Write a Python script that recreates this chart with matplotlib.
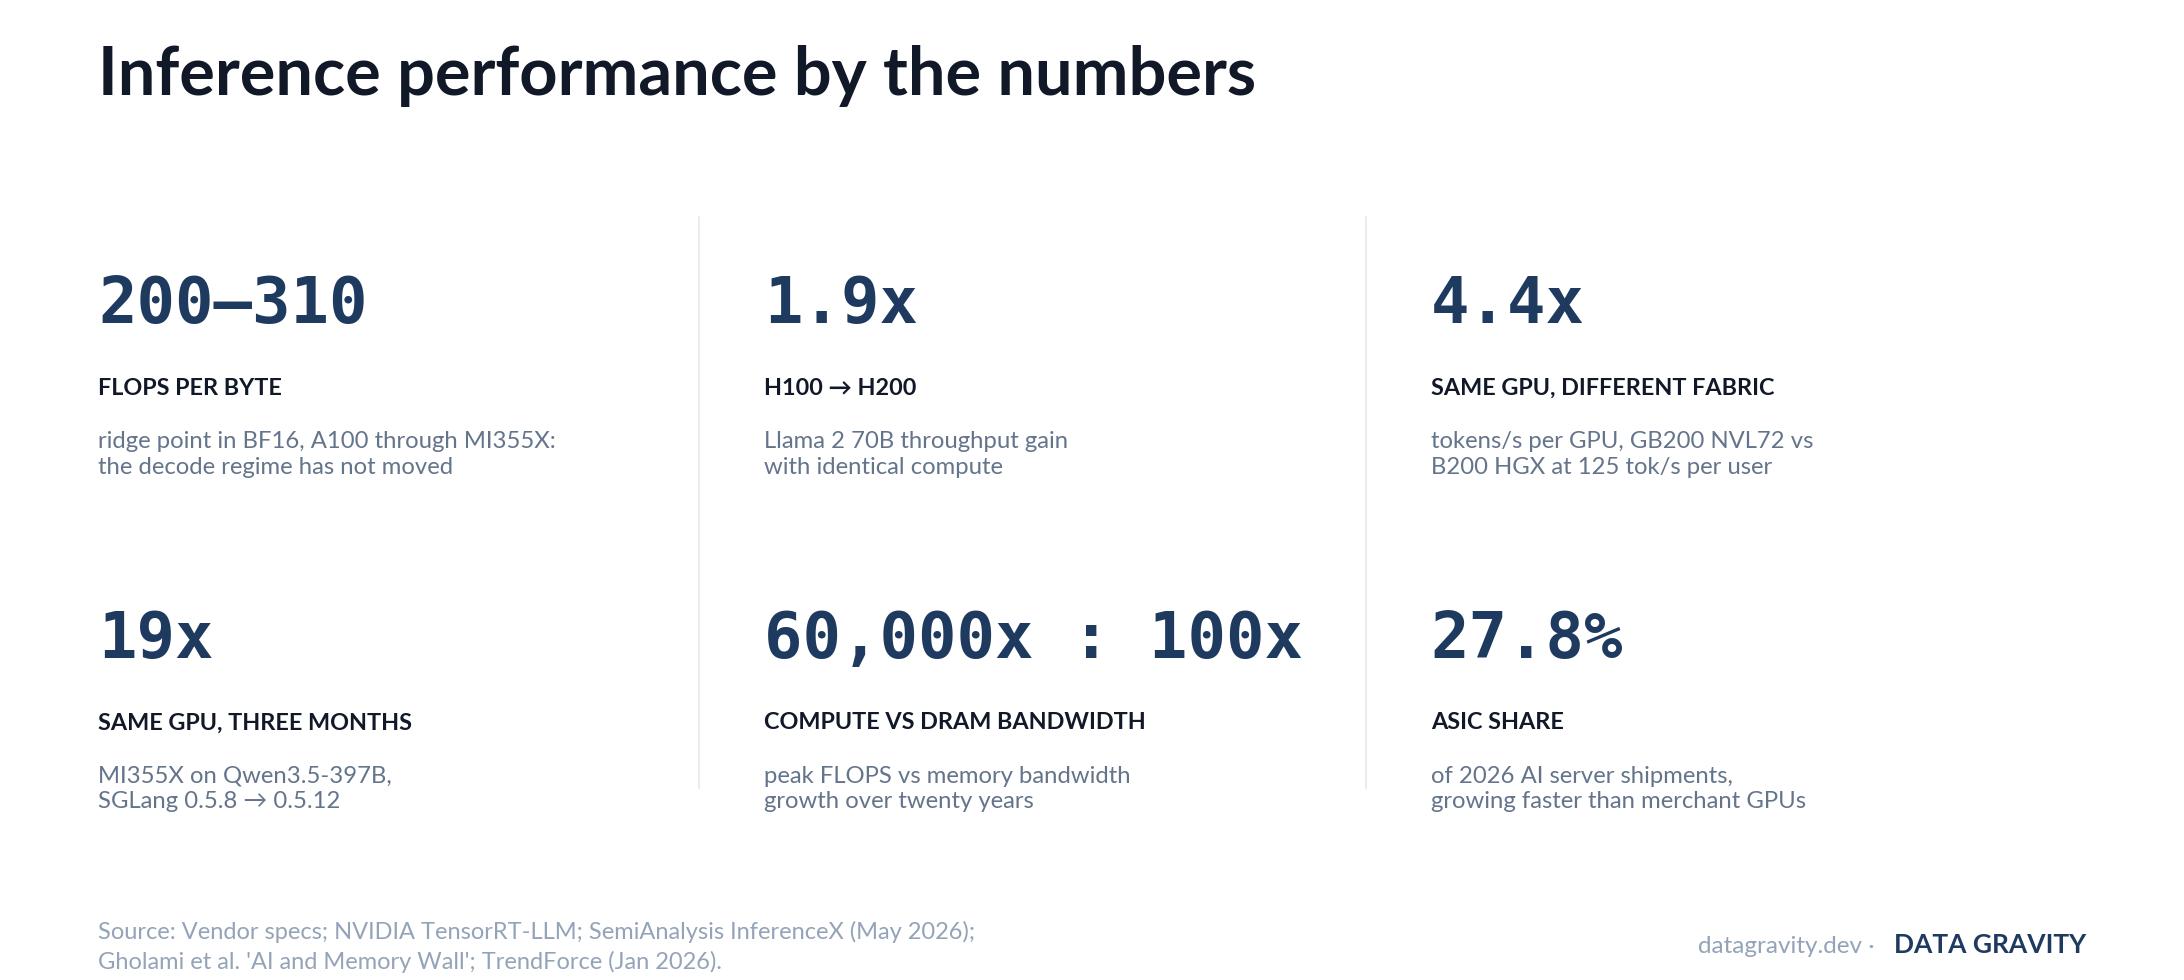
import matplotlib
matplotlib.use("Agg")
import matplotlib.pyplot as plt
from matplotlib.lines import Line2D

TITLE = "Inference performance by the numbers"
values = ["200–310", "1.9x", "4.4x", "19x", "60,000x : 100x", "27.8%"]
labels = ["FLOPS PER BYTE", "H100 → H200", "SAME GPU, DIFFERENT FABRIC",
          "SAME GPU, THREE MONTHS", "COMPUTE VS DRAM BANDWIDTH", "ASIC SHARE"]
descs = [
    "ridge point in BF16, A100 through MI355X:\nthe decode regime has not moved",
    "Llama 2 70B throughput gain\nwith identical compute",
    "tokens/s per GPU, GB200 NVL72 vs\nB200 HGX at 125 tok/s per user",
    "MI355X on Qwen3.5-397B,\nSGLang 0.5.8 → 0.5.12",
    "peak FLOPS vs memory bandwidth\ngrowth over twenty years",
    "of 2026 AI server shipments,\ngrowing faster than merchant GPUs",
]
SOURCE = ["Source: Vendor specs; NVIDIA TensorRT-LLM; SemiAnalysis InferenceX (May 2026);",
          "Gholami et al. 'AI and Memory Wall'; TrendForce (Jan 2026)."]

NAVY = "#1f3a5f"
INK = "#111827"
GREY = "#64748b"
LIGHT = "#94a3b8"

W, H = 2184, 980
S = 1.4  # layout measured on a 1560x700 grid

fig = plt.figure(figsize=(W / 100, H / 100), dpi=100)
fig.patch.set_facecolor("white")


def put(x, y, s, **kw):
    # x, y in 1560x700 grid, y from top, baseline anchored
    kw.setdefault("va", "baseline")
    return fig.text(x * S / W, 1 - y * S / H, s, **kw)


put(70, 68, TITLE, fontsize=48, fontweight="bold", family="Lato", color=INK)

for xd in (499, 976):
    fig.add_artist(Line2D([xd * S / W] * 2, [1 - 155 * S / H, 1 - 563 * S / H],
                          transform=fig.transFigure, color="#e5e7eb", lw=1.2))

col_x = [70, 546, 1022]
row_y = [231, 470]
for i, (v, lab, d) in enumerate(zip(values, labels, descs)):
    x = col_x[i % 3]
    y0 = row_y[i // 3]
    put(x, y0, v, fontsize=46, fontweight="bold", family="DejaVu Sans Mono", color=NAVY)
    put(x, y0 + 51, lab, fontsize=16.8, fontweight="bold",
        family=["Lato", "DejaVu Sans"], color=INK)
    for k, line in enumerate(d.split("\n")):
        put(x, y0 + 89 + k * 18.5, line, fontsize=17.2,
            family=["Lato", "DejaVu Sans"], color=GREY)

for k, line in enumerate(SOURCE):
    put(70, 671 + k * 21, line, fontsize=17, family="Lato", color=LIGHT)

put(1490, 681, "DATA GRAVITY", fontsize=19, fontweight="bold", family="Lato",
    color=NAVY, ha="right")
put(1339, 681, "datagravity.dev ·", fontsize=17.5, family="Lato", color=LIGHT, ha="right")

fig.savefig("out.png", dpi=100, facecolor="white")
